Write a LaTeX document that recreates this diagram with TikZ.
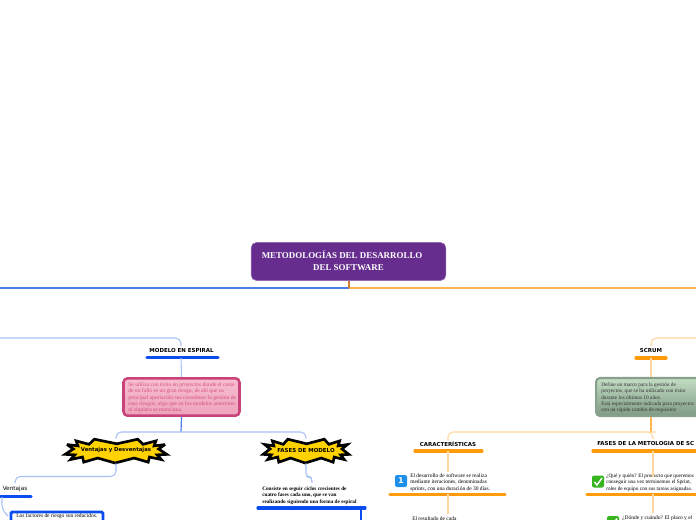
\documentclass[tikz,border=0pt]{standalone}
\usepackage{fontspec}
\setmainfont{Liberation Serif}
\newfontfamily\lab{DejaVu Sans}
\definecolor{bl}{HTML}{0A4CF0}
\definecolor{blt}{HTML}{A9C0F5}
\definecolor{blm}{HTML}{4A7EEA}
\definecolor{orb}{HTML}{FF9A0A}
\definecolor{ort}{HTML}{FFD9A0}
\definecolor{orm}{HTML}{FFB54D}
\definecolor{purp}{HTML}{662D8E}
\definecolor{pinkb}{HTML}{C9437A}
\definecolor{pinkt}{HTML}{D5507F}
\definecolor{pinktop}{HTML}{F7BDD0}
\definecolor{pinkbot}{HTML}{EDA3BC}
\definecolor{grnb}{HTML}{87A18C}
\definecolor{grntop}{HTML}{C3DDC3}
\definecolor{grnbot}{HTML}{7F9A85}
\definecolor{yel}{HTML}{FFD200}
\definecolor{chk}{HTML}{38B51E}
\definecolor{icb}{HTML}{1E8FEA}
\tikzset{
 lnk/.style={line width=0.8pt,rounded corners=4pt},
 blink/.style={lnk,draw=blt},
 olink/.style={lnk,draw=ort},
 bbar/.style={draw=bl,line width=2.4pt,line cap=round},
 obar/.style={draw=orb,line width=2.4pt,line cap=round},
 lbl/.style={inner sep=0pt,font=\lab\bfseries\fontsize{4.1}{5}\selectfont},
 body/.style={inner sep=0pt,anchor=north west,align=left,font=\fontsize{4.1}{4.75}\selectfont},
 starf/.style={draw=black,fill=yel,line width=2pt,line join=miter,miter limit=4},
 iconb/.style={rounded corners=1.5pt,minimum size=9pt,inner sep=0pt},
}
% zigzag burst on a squarish oval: centre x, centre y, half width, half height
\newcommand{\burst}[4]{%
 \draw[starf] plot[samples at={0,...,25},variable=\k]
  ({#1+(mod(\k,2)==0?1:0.84)*#3*sign(cos(\k*360/26+7))*pow(abs(cos(\k*360/26+7)),0.6)},
   {#2+(mod(\k,2)==0?1:0.6)*#4*sign(sin(\k*360/26+7))*pow(abs(sin(\k*360/26+7)),0.6)}) -- cycle;}
\begin{document}
\begin{tikzpicture}[x=0.75pt,y=-0.75pt]
\useasboundingbox (0,0) rectangle (696,520);
\clip (0,0) rectangle (696,520);
% hubs and free ends
\coordinate (L0) at (0,288); \coordinate (R0) at (696,288); \coordinate (H0) at (349,288);
\coordinate (Lt) at (0,338); \coordinate (Rt) at (696,338);
\coordinate (Hb) at (181,432); \coordinate (Ho) at (651,432);
\coordinate (Bend) at (361,520); \coordinate (Oend) at (448,514); \coordinate (Gend) at (653,513);
% root
\node[fill=purp,rounded corners=4pt,draw=purp!70!white,line width=.5pt,minimum width=146pt,minimum height=28.5pt] (root) at (348.5,261.5) {};
\node[inner sep=0pt,anchor=north west,align=left,text=white,font=\bfseries\fontsize{6.7}{9.4}\selectfont] (roottxt) at (261.5,250.5) {METODOLOGÍAS DEL DESARROLLO\\[-0.1pt]\hspace{38.5pt}DEL SOFTWARE};
% boxes
\node[draw=pinkb,line width=1.9pt,rounded corners=3pt,top color=pinktop,bottom color=pinkbot,minimum width=87pt,minimum height=28pt,inner sep=0pt] (pinkbox) at (181.5,397) {};
\node[draw=grnb,line width=1.6pt,rounded corners=3pt,top color=grntop,bottom color=grnbot,minimum width=100pt,minimum height=28.5pt,inner sep=0pt,anchor=west] (grnbox) at (595,397) {};
% labels
\node[lbl] (mod) at (181.5,351) {MODELO EN ESPIRAL};
\node[lbl] (scr) at (651,351) {SCRUM};
\node[lbl] (car) at (448,444) {CARACTERÍSTICAS};
\node[lbl,anchor=west] (fasm) at (597,444) {FASES DE LA METOLOGIA DE SC};
\node[inner sep=0pt,anchor=west,font=\lab\fontsize{4.3}{5}\selectfont] (ven) at (2.5,489) {Ventajas};
% stars
\burst{116}{451}{51}{12}
\node[inner sep=0pt,minimum width=77pt,minimum height=18pt] (st1) at (116,451) {};
\node[lbl,font=\lab\bfseries\fontsize{4}{5}\selectfont] (st1t) at (116,450.5) {Ventajas y Desventajas};
\burst{306}{451}{43}{12}
\node[inner sep=0pt,minimum width=65pt,minimum height=18pt] (st2) at (306,451) {};
\node[lbl] (st2t) at (306,450.5) {FASES DE MODELO};
% text bodies
\node[body,text=pinkt,font=\fontsize{4.2}{4.75}\selectfont] (pt) at (128,382.5) {Se utiliza con éxito en proyectos donde el coste\\de un fallo es un gran riesgo, de ahí que su\\principal aportación sea considerar la gestión de\\esos riesgos, algo que en los modelos anteriores\\ni siquiera se menciona.};
\node[body,text=black!80,font=\fontsize{4}{4.75}\selectfont] (gt) at (601,382.5) {Define un marco para la gestión de\\proyectos, que se ha utilizado con éxito\\durante los últimos 10 años.\\Está especialmente indicada para proyectos\\con un rápido cambio de requisitos};
\node[body,font=\bfseries\fontsize{3.95}{4.75}\selectfont] (ft) at (262,486.5) {Consiste en seguir ciclos crecientes de\\cuatro fases cada uno, que se van\\realizando siguiendo una forma de espiral};
\node[body] (t1) at (410,473.5) {El desarrollo de software se realiza\\mediante iteraciones, denominadas\\sprints, con una duración de 30 días.};
\node[body] (t2) at (412,516.5) {El resultado de cada};
\node[body,font=\fontsize{3.95}{4.75}\selectfont] (t3) at (606,473.5) {¿Qué y quién? El producto que queremos\\conseguir una vez terminemos el Sprint,\\roles de equipo con sus tareas asignadas.};
\node[body] (t4) at (622,515.5) {¿Dónde y cuándo? El plazo y el};
% blue framed box
\node[draw=bl,line width=2.2pt,rounded corners=1pt,anchor=north west,minimum width=69pt,minimum height=30pt,inner sep=0pt] (vbox) at (9.5,510.5) {};
\node[body] (vt) at (16,513.5) {Los factores de riesgo son reducidos.};
% icons
\node[iconb,fill=icb,text=white,font=\lab\bfseries\fontsize{6}{6}\selectfont] (i1) at (401,481) {1};
\node[iconb,fill=chk] (i2) at (598,481.5) {};
\node[iconb,fill=chk] (i3) at (613,522) {};
\draw[white,line width=1.1pt] (594.5,482) -- (597,485) -- (602,478);
\draw[white,line width=1.1pt] (609.5,522.5) -- (612,525) -- (617,518.5);
% bars
\coordinate (bm1) at (147,357.5); \coordinate (bm2) at (218,357.5);
\coordinate (bv1) at (-2,496.5); \coordinate (bv2) at (31,496.5);
\coordinate (bf1) at (258,508); \coordinate (bf2) at (365,508);
\coordinate (os1) at (636,358); \coordinate (os2) at (666,358);
\coordinate (oc1) at (415,451); \coordinate (oc2) at (482,451);
\coordinate (od1) at (390,494.5); \coordinate (od2) at (505,494.5);
\coordinate (of1) at (593,451); \coordinate (of2) at (700,451);
\coordinate (og1) at (587,494.5); \coordinate (og2) at (700,494.5);
\path[bbar] (bm1) edge (bm2) (bv1) edge (bv2) (bf1) edge (bf2);
\path[obar] (os1) edge (os2) (oc1) edge (oc2) (od1) edge (od2) (of1) edge (of2) (og1) edge (og2);
% connectors
\draw[draw=blm,line width=.9pt] (H0) -- (L0);
\draw[draw=orm,line width=.9pt] (H0) -- (R0);
\draw[draw=brown!70!orange,line width=.9pt] (root.south -| H0) -- (H0);
\draw[blink] (Lt) -- (181,338) -- (181,346);
\draw[blink] (181,358) -- (pinkbox.north);
\draw[draw=blm,line width=.9pt] (pinkbox.south) -- (Hb);
\draw[blink] (st1.north) -- (116,432) -- (Hb) -- (306,432) -- (st2.north);
\draw[blink] (st1.south) -- (116,476.5) -- (15,476.5) -- (15,483);
\draw[lnk,draw=blt,rounded corners=3pt] (st2.south) -- (306,477) -- (312,477) -- (312,483);
\draw[blink] (2,497) -- (2,510) -- (8,516);
\draw[draw=bl,line width=.9pt] (361,508) -- (Bend);
\draw[olink] (Rt) -- (651,338) -- (651,346);
\draw[olink] (651,358) -- (grnbox.north -| 651,0);
\draw[draw=orm,line width=.9pt] (grnbox.south -| 651,0) -- (Ho);
\draw[olink] (car.north) -- (448,432) -- (Ho) -- (653,432) -- (653,439);
\draw[olink] (448,451) -- (448,472);
\draw[olink] (448,494) -- (Oend);
\draw[olink] (653,451) -- (653,477);
\draw[olink] (653,494) -- (Gend);
\end{tikzpicture}
\end{document}
